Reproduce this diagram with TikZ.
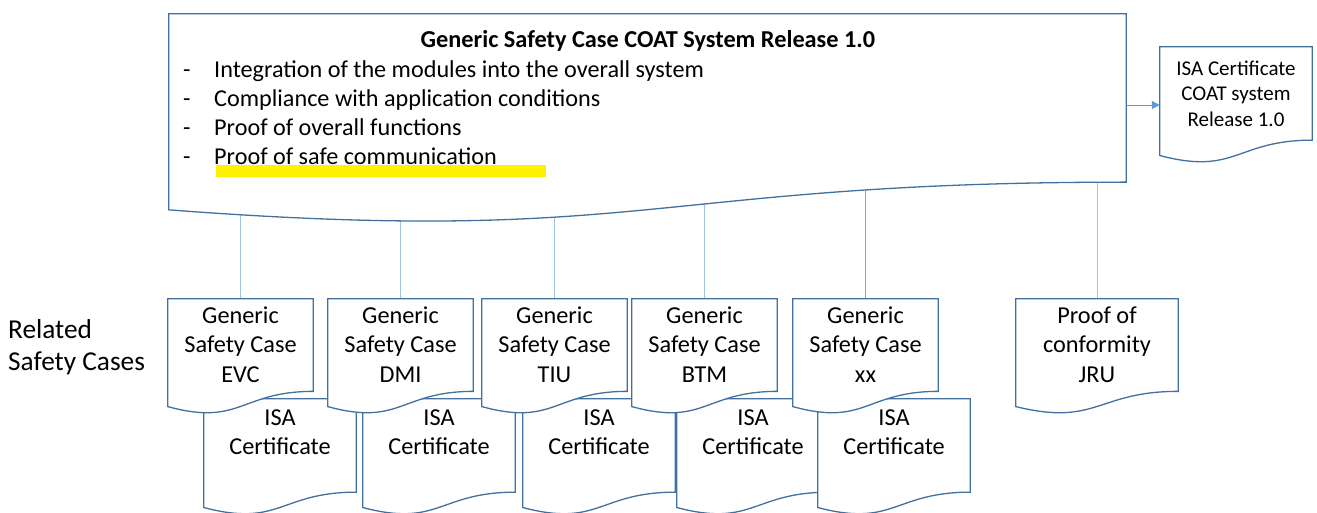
\documentclass[tikz,border=0pt]{standalone}
\usepackage{fontspec}
\setmainfont{Carlito}
\usetikzlibrary{calc,arrows.meta}
\pgfdeclarelayer{background}
\pgfsetlayers{background,main}
\definecolor{docblue}{RGB}{65,113,156}
\definecolor{linkblue}{RGB}{160,196,230}
\definecolor{linkmid}{RGB}{125,168,216}
\definecolor{arrowblue}{RGB}{91,155,213}
\newcommand{\docshape}[1]{%
  \path[docline] (#1.north west) -- (#1.north east)
    -- ($(#1.north east)!0.802!(#1.south east)$)
    .. controls ($(#1.north)!0.802!(#1.south)$) and ($(#1.north)!1.1075!(#1.south)$)
    .. ($(#1.north west)!0.934!(#1.south west)$) -- cycle;}
\newcommand{\crows}[1]{\begin{tabular}[t]{@{}c@{}}#1\end{tabular}}
\begin{document}
\begin{tikzpicture}[x=1pt,y=-1pt,
  docbox/.style={shape=rectangle,draw=none,inner sep=0pt},
  docline/.style={draw=docblue,line width=1.3pt,fill=white},
  gtext/.style={anchor=base,inner sep=0pt,font=\fontsize{24.3}{29.3}\selectfont},
  smalltext/.style={anchor=base,inner sep=0pt,font=\fontsize{21}{25.6}\selectfont},
  link/.style={draw=linkblue,line width=1pt},
  flow/.style={draw=arrowblue,line width=1pt,-{Triangle[length=8pt,width=8pt]}}]
\useasboundingbox (0,0) rectangle (1317,512);
\clip (0,0) rectangle (1317,512);

% main document
\node[docbox,minimum width=957pt,minimum height=209.5pt] (main) at (647.5,118.75) {};
\docshape{main}
\fill[yellow] (216,165) rectangle (546,177);
\node[anchor=base,inner sep=0pt,font=\bfseries\fontsize{24.3}{29}\selectfont] (title) at (648,47.5)
  {Generic Safety Case COAT System Release 1.0};
\node[anchor=base west,inner sep=0pt,font=\fontsize{24.2}{29}\selectfont] (list) at (183,77.5)
  {\begin{tabular}[t]{@{}l@{}l@{}}
   \makebox[31pt][l]{-}&Integration of the modules into the overall system\\
   \makebox[31pt][l]{-}&Compliance with application conditions\\
   \makebox[31pt][l]{-}&Proof of overall functions\\
   \makebox[31pt][l]{-}&Proof of safe communication
   \end{tabular}};

% ISA certificate of the system
\node[docbox,minimum width=152pt,minimum height=116pt] (isaR) at (1236,105) {};
\docshape{isaR}
\node[smalltext] (isaRT) at (1236,75) {\crows{ISA Certificate\\COAT system\\Release 1.0}};
\draw[flow] (isaR.west -| main.east) -- (isaR.west);

% label
\node[anchor=base west,inner sep=0pt,font=\fontsize{27.3}{32}\selectfont] (related) at (8,338)
  {\begin{tabular}[t]{@{}l@{}}Related\\Safety Cases\end{tabular}};

% ISA certificates of the modules
\foreach \n/\x in {isaEVC/280,isaDMI/439,isaTIU/599,isaBTM/753,isaXX/894}{
  \node[docbox,minimum width=152pt,minimum height=116pt] (\n) at (\x,457) {};
  \docshape{\n}
  \node[gtext] (\n T) at (\x,425) {\crows{ISA\\Certificate}};
}

% generic safety cases of the modules
\foreach \n/\x/\lab in {evc/240.5/EVC,dmi/400.5/DMI,tiu/554.5/TIU,btm/704.5/BTM,xx/865.5/xx}{
  \node[docbox,minimum width=145pt,minimum height=115pt] (\n) at (\x,356.5) {};
  \docshape{\n}
  \node[gtext] (\n T) at (\x,323.5) {\crows{Generic\\Safety Case\\\lab}};
}

% proof of conformity
\node[docbox,minimum width=162pt,minimum height=115pt] (jru) at (1097,356.5) {};
\docshape{jru}
\node[gtext] (jruT) at (1097,323.5) {\crows{Proof of\\conformity\\JRU}};

% connectors
\begin{pgfonlayer}{background}
  \foreach \n in {evc,dmi,tiu,btm,jru}{
    \draw[link] (\n.north) -- (\n.north |- main.center);
  }
  \draw[link,draw=linkmid] (xx.north) -- (xx.north |- main.center);
\end{pgfonlayer}
\end{tikzpicture}
\end{document}
